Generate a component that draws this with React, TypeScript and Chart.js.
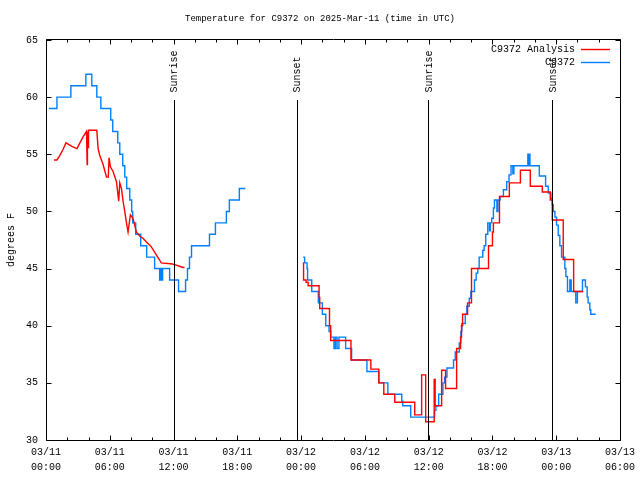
import React, { useEffect, useRef } from "react";
import { Chart, registerables } from "chart.js";

Chart.register(...registerables);

// ---- text ----
const titleText = "Temperature for C9372 on 2025-Mar-11 (time in UTC)";
const yAxisLabel = "degrees F";
const analysisLabel = "C9372 Analysis";
const observedLabel = "C9372";

// ---- axes (hours since 03/11 00:00 UTC) ----
const xMinHour = 0;
const xMaxHour = 54;
const xMajorStep = 6;
const xMinorStep = 2;
const yMin = 30;
const yMax = 65;
const yStep = 5;
const startDay = 11;
const monthLabel = "03";

// ---- sunrise / sunset markers ----
const sunEventHours = [12.0, 23.57, 35.98, 47.6];
const sunEventLabels = ["Sunrise", "Sunset", "Sunrise", "Sunset"];
const sunLineTopTemp = 59.75;
const sunLabelBaseTemp = 60.4;

// ---- observed (C9372), day 1 ----
const obs1Hours = [0.28, 1.03, 2.34, 3.75, 4.31, 4.78, 5.16, 6.09, 6.28, 6.75, 6.94, 7.22, 7.41, 7.59, 7.88, 8.06, 8.16, 8.44, 8.91, 9.47, 10.22, 10.69, 10.78, 10.88, 10.97, 11.63, 12.47, 13.13, 13.31, 13.5, 13.69, 15.38, 15.94, 16.97, 17.25, 18.19, 18.75];
const obs1Temps = [59, 60, 61, 62, 61, 60, 59, 58, 57, 56, 55, 54, 53, 52, 51, 50, 49, 48, 47, 46, 45, 44, 45, 44, 45, 44, 43, 44, 45, 46, 47, 48, 49, 50, 51, 52, 52];

// ---- observed (C9372), day 2 ----
const obs2Hours = [24.19, 24.33, 24.56, 24.61, 25.0, 25.62, 26.0, 26.32, 26.63, 26.78, 27.09, 27.23, 27.38, 27.56, 28.19, 28.75, 30.19, 31.31, 32.16, 33.47, 33.56, 34.31, 36.56, 36.68, 36.94, 37.34, 37.5, 37.72, 38.34, 38.5, 38.88, 39.03, 39.12, 39.44, 39.59, 39.82, 39.97, 40.31, 40.47, 40.62, 40.75, 41.09, 41.22, 41.37, 41.56, 41.72, 41.81, 41.93, 42.09, 42.19, 42.42, 42.52, 42.72, 43.03, 43.34, 43.56, 43.75, 43.92, 44.02, 45.33, 45.42, 45.47, 45.53, 46.41, 47.0, 47.25, 47.5, 47.63, 47.72, 47.88, 48.03, 48.19, 48.34, 48.5, 48.81, 48.91, 49.06, 49.28, 49.41, 49.84, 49.99, 50.47, 50.75, 50.91, 51.0, 51.16, 51.25, 51.72];
const obs2Temps = [46, 45.5, 45, 44, 43, 42, 41, 40, 39.5, 39, 38, 39, 38, 39, 38, 37, 36, 35, 34, 33.4, 33, 32, 32.6, 33, 34, 35, 35.5, 36.3, 37, 37.7, 38.5, 39.5, 40.2, 41, 41.7, 42.4, 43, 44, 44.6, 45, 46, 46.6, 47, 48, 49, 48.3, 49, 49.4, 50.3, 51, 50, 51, 51.3, 51.9, 52.6, 53.2, 54, 53.3, 54, 55, 54, 55, 54, 53.1, 52.2, 51.6, 51.15, 50.6, 50, 49.5, 48.8, 47.9, 47, 46, 45, 44.3, 43, 44, 43, 42, 43, 44, 43.4, 42.5, 42, 41.4, 41, 41];

// ---- analysis (C9372 Analysis), day 1 ----
const ana1Hours = [0.75, 1.03, 1.31, 1.59, 1.88, 2.44, 2.91, 3.19, 3.47, 3.81, 3.87, 3.9, 3.97, 4.0, 4.78, 4.9, 5.06, 5.37, 5.69, 5.86, 5.93, 6.06, 6.31, 6.63, 6.84, 6.94, 7.1, 7.25, 7.41, 7.57, 7.72, 7.94, 8.18, 8.34, 8.5, 8.81, 9.12, 9.59, 9.91, 10.38, 10.69, 10.84, 11.91, 12.25, 12.56, 12.87, 13.03];
const ana1Temps = [54.5, 54.5, 54.9, 55.4, 56.0, 55.7, 55.5, 56.0, 56.5, 57.0, 54.1, 57.0, 55.6, 57.1, 57.1, 55.5, 54.9, 54.1, 53.0, 53.0, 54.7, 53.9, 53.5, 52.6, 50.9, 52.5, 52.0, 50.9, 50.0, 49.0, 48.2, 49.7, 49.4, 48.8, 48.2, 47.85, 47.65, 47.2, 46.9, 46.2, 45.75, 45.5, 45.4, 45.3, 45.2, 45.1, 45.1];

// ---- analysis (C9372 Analysis), day 2 ----
const ana2Hours = [24.19, 24.23, 24.47, 24.66, 25.69, 25.75, 26.67, 26.78, 28.69, 30.56, 31.31, 31.78, 32.81, 34.69, 35.34, 35.72, 36.52, 36.61, 37.22, 37.59, 38.63, 39.0, 39.09, 39.19, 39.66, 40.03, 41.63, 42.0, 42.09, 42.66, 43.59, 44.63, 45.56, 46.69, 47.44, 47.63, 48.66, 49.64, 50.53];
const ana2Temps = [45.5, 44, 43.8, 43.5, 42.5, 41.5, 40, 38.7, 37, 36.2, 35, 34, 33.3, 32.2, 35.7, 31.6, 35.3, 33, 36.1, 34.5, 38, 39, 40, 41, 42, 45, 47, 48.2, 49, 51.3, 52.5, 53.6, 52.2, 51.7, 51, 49.25, 45.8, 43, 43];

// ---- styling ----
const analysisColor = "#ff0000";
const observedColor = "#0080ff";
const monoFont = "'Liberation Mono', 'DejaVu Sans Mono', monospace";
const seriesLineWidth = 1.4;

const toPoints = (xs: number[], ys: number[]) => xs.map((x, i) => ({ x, y: ys[i] }));

const pad2 = (n: number) => (n < 10 ? "0" + n : "" + n);

const gnuplotDecor = {
  id: "gnuplotDecor",
  beforeDraw(chart: any) {
    const { ctx, width, height } = chart;
    ctx.save();
    ctx.fillStyle = "#ffffff";
    ctx.fillRect(0, 0, width, height);
    ctx.restore();
  },
  afterDraw(chart: any) {
    const { ctx, chartArea } = chart;
    const xs = chart.scales.x;
    const ys = chart.scales.y;
    const { left, right, top, bottom } = chartArea;
    const L = Math.round(left) + 0.5;
    const R = Math.round(right) + 0.5;
    const T = Math.round(top) - 0.5;
    const B = Math.round(bottom) + 0.5;
    ctx.save();
    ctx.strokeStyle = "#000";
    ctx.lineWidth = 1;
    ctx.beginPath();
    ctx.rect(L, T, R - L, B - T);
    // x ticks (bottom & top)
    for (let h = xMinHour; h <= xMaxHour; h += xMinorStep) {
      const px = Math.round(xs.getPixelForValue(h)) + 0.5;
      const len = h % xMajorStep === 0 ? 5 : 3;
      ctx.moveTo(px, B);
      ctx.lineTo(px, B - len);
      ctx.moveTo(px, T);
      ctx.lineTo(px, T + len);
    }
    // y ticks (left & right)
    for (let v = yMin; v <= yMax; v += yStep) {
      const py = Math.round(ys.getPixelForValue(v)) + 0.5;
      ctx.moveTo(L, py);
      ctx.lineTo(L + 5, py);
      ctx.moveTo(R, py);
      ctx.lineTo(R - 5, py);
    }
    // sunrise / sunset lines
    sunEventHours.forEach((h) => {
      const px = Math.round(xs.getPixelForValue(h)) + 0.5;
      ctx.moveTo(px, ys.getPixelForValue(sunLineTopTemp));
      ctx.lineTo(px, B);
    });
    ctx.stroke();

    ctx.fillStyle = "#000";
    ctx.font = "10px " + monoFont;
    // sun labels
    sunEventHours.forEach((h, i) => {
      const px = xs.getPixelForValue(h);
      ctx.save();
      ctx.translate(px + 1, ys.getPixelForValue(sunLabelBaseTemp));
      ctx.rotate(-Math.PI / 2);
      ctx.textAlign = "left";
      ctx.textBaseline = "middle";
      ctx.fillText(sunEventLabels[i], 0, 0);
      ctx.restore();
    });

    // title
    ctx.save();
    ctx.font = "9px " + monoFont;
    ctx.textAlign = "center";
    ctx.textBaseline = "middle";
    ctx.fillText(titleText, chart.width / 2, 19);
    ctx.restore();

    // y axis label
    ctx.save();
    ctx.translate(11, (top + bottom) / 2);
    ctx.rotate(-Math.PI / 2);
    ctx.textAlign = "center";
    ctx.textBaseline = "middle";
    ctx.fillText(yAxisLabel, 0, 0);
    ctx.restore();

    // legend
    const legendItems = [
      { label: analysisLabel, color: analysisColor },
      { label: observedLabel, color: observedColor },
    ];
    legendItems.forEach((item, i) => {
      const y = 49 + i * 13;
      ctx.fillStyle = "#000";
      ctx.textAlign = "right";
      ctx.textBaseline = "middle";
      ctx.fillText(item.label, 575, y);
      ctx.strokeStyle = item.color;
      ctx.lineWidth = seriesLineWidth;
      ctx.beginPath();
      ctx.moveTo(581, y + 0.5);
      ctx.lineTo(610, y + 0.5);
      ctx.stroke();
    });
    ctx.restore();
  },
};

export default function App() {
  const canvasRef = useRef<HTMLCanvasElement | null>(null);

  useEffect(() => {
    if (!canvasRef.current) return;
    const lineCommon = {
      pointRadius: 0,
      pointHoverRadius: 0,
      borderWidth: seriesLineWidth,
      fill: false,
      tension: 0,
    };
    const chart = new Chart(canvasRef.current, {
      type: "line",
      data: {
        datasets: [
          {
            ...lineCommon,
            label: analysisLabel,
            data: toPoints(ana1Hours, ana1Temps),
            borderColor: analysisColor,
            stepped: false,
          },
          {
            ...lineCommon,
            label: analysisLabel,
            data: toPoints(ana2Hours, ana2Temps),
            borderColor: analysisColor,
            stepped: "before",
          },
          {
            ...lineCommon,
            label: observedLabel,
            data: toPoints(obs1Hours, obs1Temps),
            borderColor: observedColor,
            stepped: "before",
          },
          {
            ...lineCommon,
            label: observedLabel,
            data: toPoints(obs2Hours, obs2Temps),
            borderColor: observedColor,
            stepped: "before",
          },
        ],
      } as any,
      options: {
        animation: false,
        responsive: false,
        maintainAspectRatio: false,
        events: [],
        layout: { padding: { top: 40, right: 18, left: 0, bottom: 0 } },
        plugins: {
          legend: { display: false },
          title: { display: false },
          tooltip: { enabled: false },
        },
        scales: {
          x: {
            type: "linear",
            min: xMinHour,
            max: xMaxHour,
            grid: { display: false, drawTicks: false },
            border: { display: false },
            afterBuildTicks: (scale: any) => {
              const t: any[] = [];
              for (let h = xMinHour; h <= xMaxHour; h += xMajorStep) t.push({ value: h });
              scale.ticks = t;
            },
            afterFit: (scale: any) => {
              scale.height = 40;
            },
            ticks: {
              autoSkip: false,
              maxRotation: 0,
              minRotation: 0,
              padding: 5,
              color: "#000",
              font: { family: monoFont, size: 10, lineHeight: 1.5 },
              callback: (v: any) => {
                const h = Number(v);
                const day = startDay + Math.floor(h / 24);
                const hr = h % 24;
                return [monthLabel + "/" + pad2(day), pad2(hr) + ":00"];
              },
            },
          },
          y: {
            type: "linear",
            min: yMin,
            max: yMax,
            grid: { display: false, drawTicks: false },
            border: { display: false },
            afterFit: (scale: any) => {
              scale.width = 46;
            },
            ticks: {
              stepSize: yStep,
              padding: 8,
              color: "#000",
              font: { family: monoFont, size: 10 },
            },
          },
        },
      } as any,
      plugins: [gnuplotDecor],
    });
    return () => chart.destroy();
  }, []);

  return (
    <div style={{ position: "absolute", left: 0, top: 0, width: 640, height: 480 }}>
      <canvas ref={canvasRef} width={640} height={480} style={{ display: "block", width: 640, height: 480 }} />
    </div>
  );
}
